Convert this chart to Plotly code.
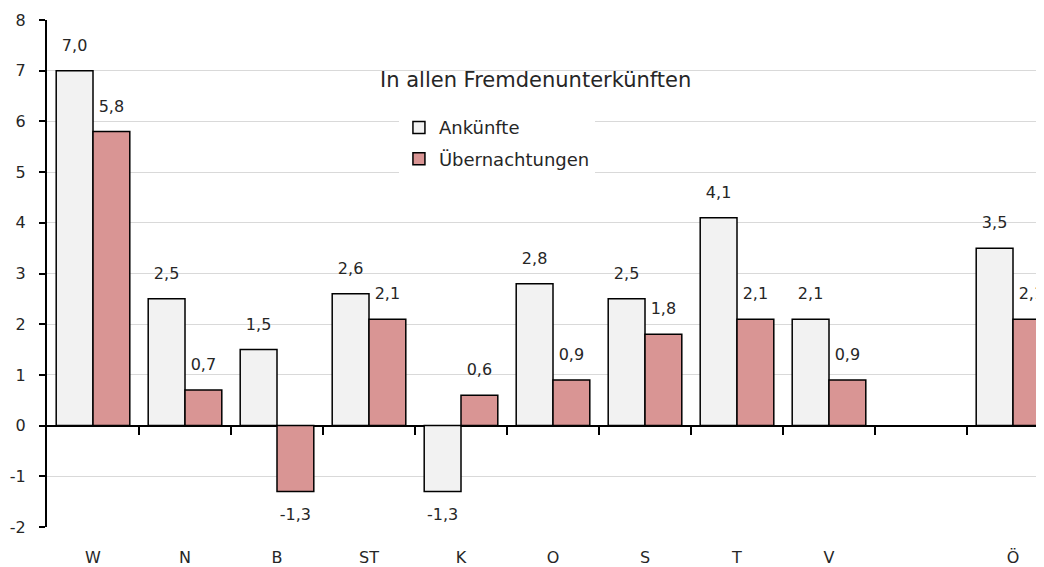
import plotly.graph_objects as go

# Regions (one empty slot before Austria total)
regions = ['W', 'N', 'B', 'ST', 'K', 'O', 'S', 'T', 'V', ' ', 'Ö']
ankuenfte = [7.0, 2.5, 1.5, 2.6, -1.3, 2.8, 2.5, 4.1, 2.1, None, 3.5]
naechtigungen = [5.8, 0.7, -1.3, 2.1, 0.6, 0.9, 1.8, 2.1, 0.9, None, 2.1]

y_ticks = list(range(-2, 9))

FONT = 'DejaVu Sans'
TXT = '#262626'


def fmt(v):
    return '' if v is None else f'{v:.1f}'.replace('.', ',')


def pos(v):
    return 'bottom center' if (v is not None and v < 0) else 'top center'


fig = go.Figure()

fig.add_trace(go.Bar(
    name='Ankünfte', x=regions, y=ankuenfte, legendgroup='a',
    marker=dict(color='#f2f2f2', line=dict(color='black', width=1.5)),
))
fig.add_trace(go.Bar(
    name='Übernachtungen', x=regions, y=naechtigungen, legendgroup='b',
    marker=dict(color='#d99594', line=dict(color='black', width=1.5)),
))

# value labels, grouped like the bars
for vals in (ankuenfte, naechtigungen):
    fig.add_trace(go.Scatter(
        x=regions, y=vals, mode='markers+text', showlegend=False,
        text=[fmt(v) for v in vals], textposition=[pos(v) for v in vals],
        marker=dict(size=24, opacity=0), hoverinfo='skip', cliponaxis=False,
        textfont=dict(family=FONT, size=16, color=TXT),
    ))

# tick marks on the zero line between categories
n = len(regions)
fig.add_trace(go.Scatter(x=[None], y=[None], xaxis='x2', showlegend=False))

fig.add_annotation(
    text='In allen Fremdenunterkünften', xref='paper', yref='paper',
    x=0.49, y=0.91, showarrow=False,
    font=dict(family=FONT, size=21, color=TXT),
)

# page body has an 8px margin, so the figure is sized/offset to compensate
fig.update_layout(
    width=1036, height=559,
    margin=dict(l=39, r=0, t=12, b=40),
    paper_bgcolor='white', plot_bgcolor='white',
    barmode='group', bargap=0.2, scattermode='group', scattergap=0.2,
    font=dict(family=FONT, size=16, color=TXT),
    showlegend=True,
    legend=dict(
        x=0.353, y=0.824, xanchor='left', yanchor='top',
        bgcolor='white', font=dict(family=FONT, size=18, color=TXT),
        tracegroupgap=5, itemwidth=30,
    ),
    xaxis=dict(
        type='category', range=[-0.5, 10.337], showgrid=False, showline=False,
        ticks='', ticklabelstandoff=19, zeroline=False, automargin=False,
        tickfont=dict(family=FONT, size=16, color=TXT),
    ),
    xaxis2=dict(
        overlaying='x', anchor='free', position=0.2, type='linear',
        range=[-0.5, 10.337], showgrid=False, showline=False, zeroline=False,
        showticklabels=False, ticks='outside', ticklen=8, tickwidth=1.5,
        tickcolor='black', tickmode='array', automargin=False,
        tickvals=[i + 0.5 for i in range(n - 1)],
    ),
    yaxis=dict(
        range=[-2, 8], tickvals=y_ticks, ticktext=[str(t) for t in y_ticks],
        showgrid=True, gridcolor='#d9d9d9',
        gridwidth=1, showline=True, linecolor='black', linewidth=2,
        ticks='outside', ticklen=6, tickwidth=2, tickcolor='black',
        zeroline=True, zerolinecolor='black', zerolinewidth=2, automargin=False,
        ticklabelstandoff=10, tickfont=dict(family=FONT, size=16, color=TXT),
    ),
)

fig.write_html('out.html')
